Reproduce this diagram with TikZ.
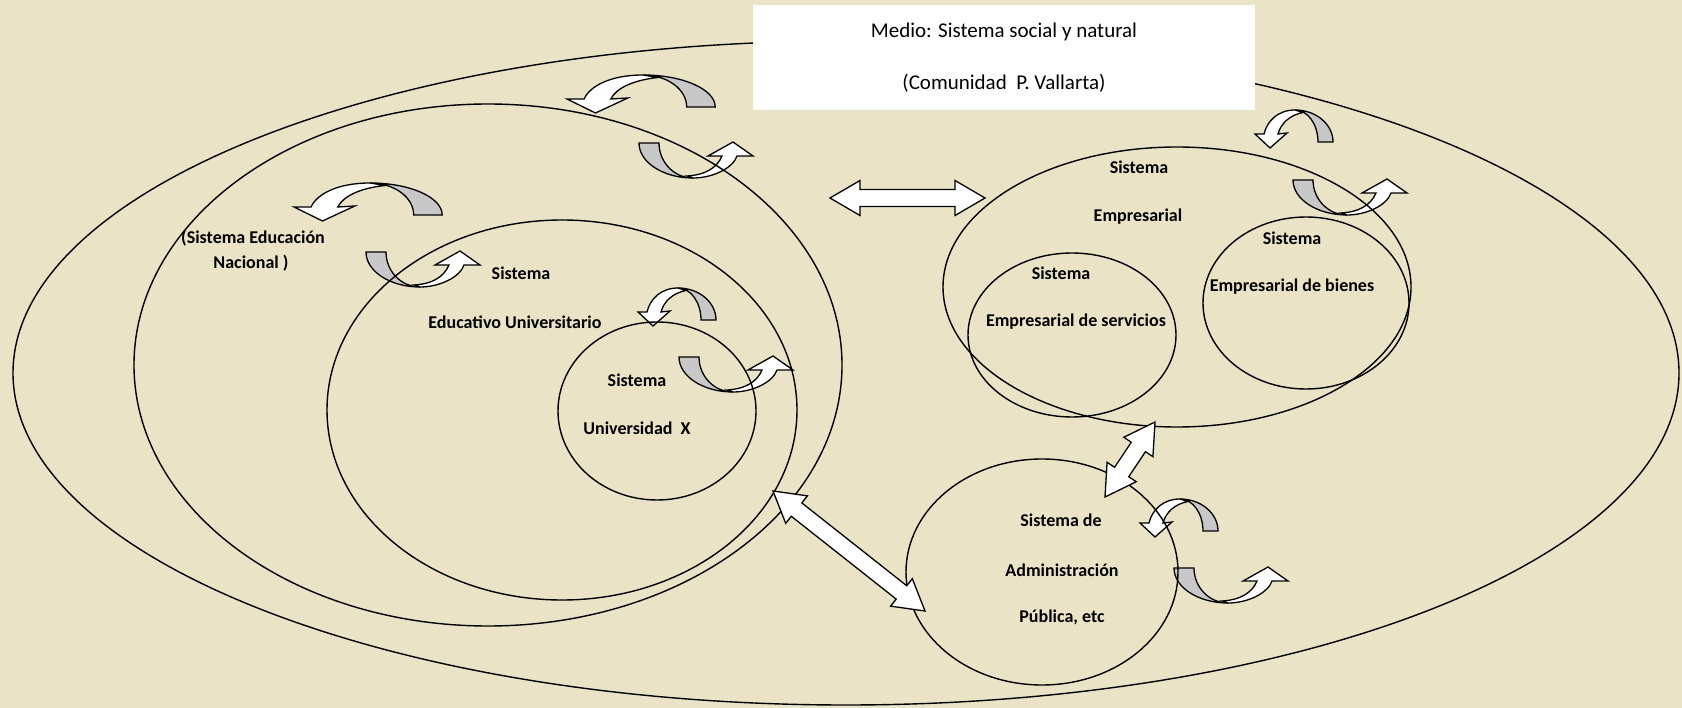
\documentclass[tikz,border=0pt]{standalone}
\usepackage{fontspec}
\setmainfont{Carlito}
\usepackage{tikz}
\usetikzlibrary{shapes.geometric,calc}
\definecolor{paper}{RGB}{234,227,197}
\definecolor{backgray}{RGB}{200,200,200}
\tikzset{
    backside/.style={draw, fill=backgray, line width=1.3pt},
    frontside/.style={draw, fill=white, line width=1.3pt}
}
\tikzset{
    overarrow/.pic = {
    \draw[backside] (0,0) .. controls (21,0) and (38,14.3) .. (38,32) -- (23,32) .. controls (23,14.3) and (12.7,0) .. (0,0) -- cycle;
    \draw[frontside] (0,0) .. controls (-17,0) and (-28,11) .. (-31,24) -- (-40,24) -- (-25,38) -- (-8,23) -- (-17,24) .. controls (-14,13) and (-5,5) .. (8,2.5) -- cycle;
    }
}
\tikzset{
    underarrow/.pic = {
    \draw[backside] (-54,-35) .. controls (-54,-15.7) and (-29.8,0) .. (0,0) .. controls (-18.8,0) and (-34,-15.7) .. (-34,-35) -- cycle;
    \draw[frontside] (0,0) .. controls (20,0) and (40,-10) .. (44,-22) -- (60,-22) -- (40,-36) -- (15,-22) -- (29,-22) .. controls (24,-10) and (12,-3) .. (-6,-2) -- cycle;
    }
}
\tikzset{
    sysell/.style={draw, ellipse, line width=1.4pt, inner sep=0pt, outer sep=0pt},
    biarrow/.style={draw, fill=white, line width=1.3pt},
    lbl/.style={inner sep=0pt, font={\fontsize{18}{22}\selectfont\bfseries}}
}
\newcommand{\drawBiArrow}[2]{\draw[biarrow] (#1) -- ($(#1)!34.73pt!30.26:(#2)$) -- ($(#1)!31.18pt!15.82:(#2)$) -- ($(#2)!31.18pt!-15.82:(#1)$) -- ($(#2)!34.73pt!-30.26:(#1)$) -- (#2) -- ($(#2)!34.73pt!30.26:(#1)$) -- ($(#2)!31.18pt!15.82:(#1)$) -- ($(#1)!31.18pt!-15.82:(#2)$) -- ($(#1)!34.73pt!-30.26:(#2)$) -- cycle}

\begin{document}
\begin{tikzpicture}[x=1pt, y=-1pt]

    \useasboundingbox (0,0) rectangle (1682,708);
    \fill[paper] (0,0) rectangle (1682,708);

    % feedback arrows
    \pic[xscale=1.9] (cycA) at (643,75) {overarrow};
    \pic (cycB) at (693,178) {underarrow};
    \pic[xscale=1.9] (cycC) at (370,183) {overarrow};
    \pic (cycD) at (420,287) {underarrow};
    \pic (cycE) at (678,288) {overarrow};
    \pic (cycF) at (733,392) {underarrow};
    \pic (cycG) at (1295,110) {overarrow};
    \pic (cycH) at (1347,215) {underarrow};
    \pic (cycI) at (1180,499) {overarrow};
    \pic (cycJ) at (1228,603) {underarrow};

    % systems
    \node[sysell, minimum width=1666pt, minimum height=664pt] (medioEll) at (846,373) {};
    \node[sysell, minimum width=708pt, minimum height=522pt] (nacional) at (488,365) {};
    \node[sysell, minimum width=470pt, minimum height=380pt] (educativo) at (562,410) {};
    \node[sysell, minimum width=198pt, minimum height=178pt] (univ) at (657,411) {};

    \node[sysell, minimum width=468pt, minimum height=280pt] (empresarial) at (1177,287) {};
    \node[sysell, minimum width=208pt, minimum height=164pt] (servicios) at (1072,335) {};
    \node[sysell, minimum width=206pt, minimum height=172pt] (bienes) at (1306,303) {};

    \node[sysell, minimum width=272pt, minimum height=226pt] (admin) at (1042,572) {};

    \node[fill=white, minimum width=502pt, minimum height=105pt, inner sep=0pt, align=center,
          font={\fontsize{21}{52}\selectfont}] (medio) at (1004,57.5)
          {Medio: Sistema social y natural\\(Comunidad~ P. Vallarta)};

    % labels
    \node[lbl] (nacA) at (253,238) {(Sistema Educación};
    \node[lbl] (nacB) at (251,263) {Nacional )};

    \node[lbl] (eduA) at (521,273) {Sistema};
    \node[lbl] (eduB) at (515,322) {Educativo Universitario};

    \node[lbl] (uniA) at (637,380) {Sistema};
    \node[lbl] (uniB) at (637,428) {Universidad~ X};

    \node[lbl] (empA) at (1139,167) {Sistema};
    \node[lbl] (empB) at (1138,217) {Empresarial};

    \node[lbl] (serA) at (1061,273) {Sistema};
    \node[lbl] (serB) at (1076,322) {Empresarial de servicios};

    \node[lbl] (bieA) at (1292,238) {Sistema};
    \node[lbl] (bieB) at (1292,287) {Empresarial de bienes};

    \node[lbl] (admA) at (1061,520) {Sistema de};
    \node[lbl] (admB) at (1062,570) {Administración};
    \node[lbl] (admC) at (1062,617) {Pública, etc};

    % exchanges
    \coordinate (eduTip) at (830,198);
    \coordinate (empTip) at (985,198);
    \drawBiArrow{eduTip}{empTip};

    \coordinate (nacTip) at (773,491);
    \coordinate (admTipA) at (925,611);
    \drawBiArrow{nacTip}{admTipA};

    \coordinate (empTipB) at (1155,422);
    \coordinate (admTipB) at (1105,497);
    \drawBiArrow{empTipB}{admTipB};

\end{tikzpicture}
\end{document}
